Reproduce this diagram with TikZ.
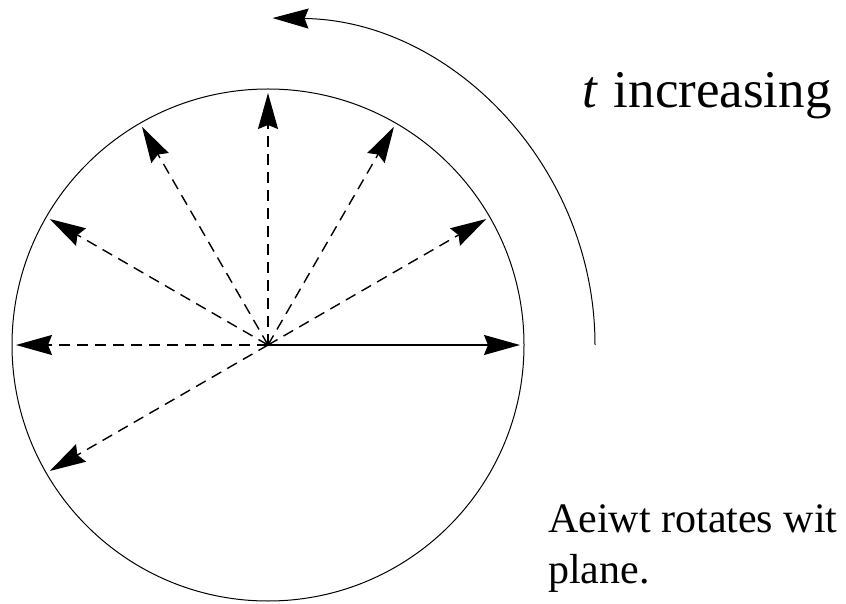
\documentclass[tikz,border=0pt]{standalone}
\usepackage{fontspec}
\setmainfont{Liberation Serif}
\newfontfamily\labfont{Liberation Serif}
\usetikzlibrary{arrows.meta}
\tikzset{
  vec/.style={line width=1.4pt, -{Stealth[length=36pt, width=20pt, inset=4pt]}},
  dvec/.style={vec, dash pattern=on 11pt off 7pt},
  rim/.style={line width=1pt},
  txt/.style={anchor=base west, inner sep=0pt},
}
\begin{document}
\begin{tikzpicture}[x=1pt,y=1pt]
\useasboundingbox (0,0) rectangle (846,603);
\coordinate (C) at (268,258);
\draw[rim] (C) circle (256);
\foreach \a in {30,60,90,120,150,180,210}{
  \path (C) ++(\a:252) coordinate (p\a);
  \draw[dvec] (C) -- (p\a);
}
\path (C) ++(0:252) coordinate (p0);
\draw[vec] (C) -- (p0);
% rotation arc
\path (C) ++(0:327) coordinate (arcS);
\draw[line width=1pt, -{Stealth[length=36pt, width=20pt, inset=4pt]}] (arcS) arc[start angle=0, end angle=89.2, radius=327];
\node[txt, font=\labfont\fontsize{53}{60}\selectfont] (lab) at (582,495) {\textit{t}\hspace{0.3em}increasing};
\node[txt, font=\labfont\fontsize{42}{51}\selectfont] (cap1) at (548,71) {Aeiwt rotates wit};
\node[txt, font=\labfont\fontsize{42}{51}\selectfont] (cap2) at (548,20) {plane.};
\end{tikzpicture}
\end{document}
